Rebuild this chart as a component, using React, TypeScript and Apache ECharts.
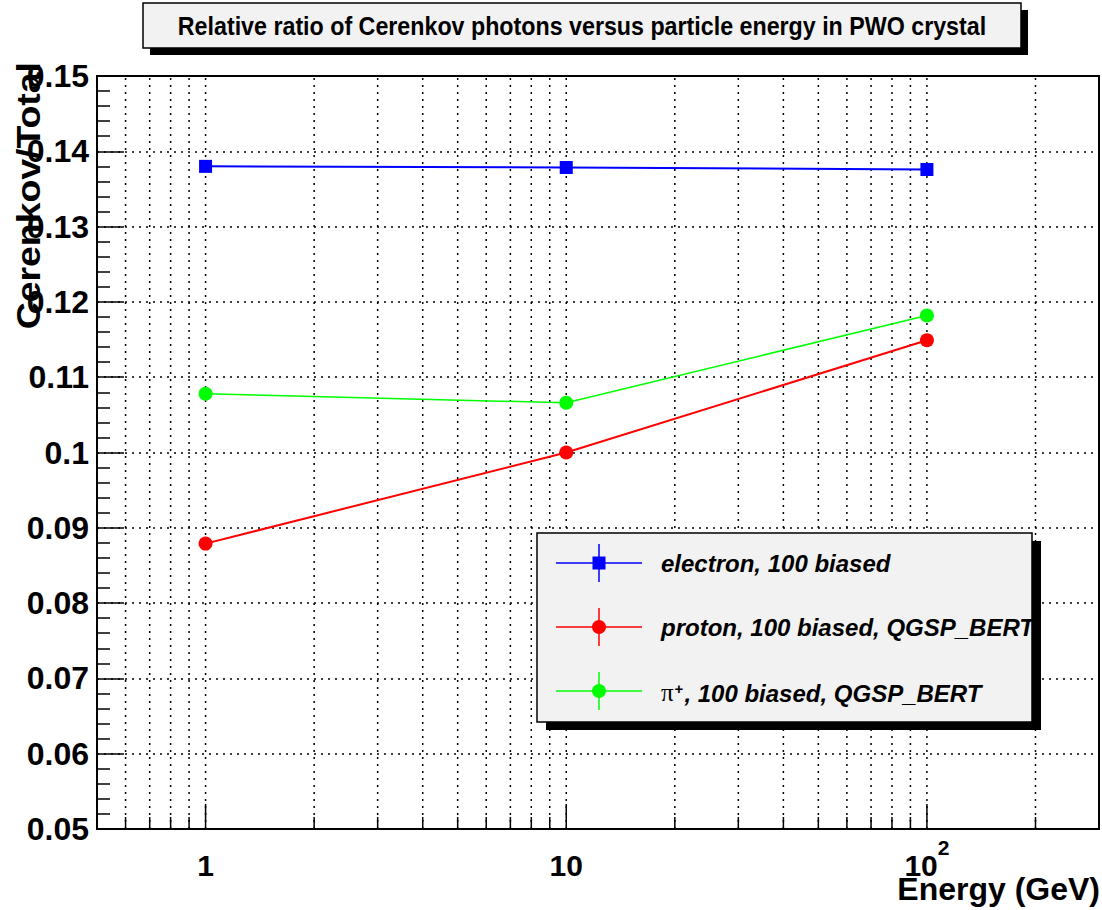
import React, { useEffect, useRef } from "react";
import * as echarts from "echarts";

// ---- data ----
const energies = [1, 10, 100];
const electronRatio = [0.1380, 0.13785, 0.13758];
const protonRatio = [0.0879, 0.1000, 0.1149];
const pionRatio = [0.1078, 0.1066, 0.1182];

const seriesNames = [
  "electron, 100 biased",
  "proton, 100 biased, QGSP_BERT",
  "π+, 100 biased, QGSP_BERT",
];

const xGridTicks = [0.6, 0.7, 0.8, 0.9, 1, 2, 3, 4, 5, 6, 7, 8, 9, 10, 20, 30, 40, 50, 60, 70, 80, 90, 100, 200];
const xMajorTicks = [1, 10, 100];
const xTickLabels = ["{b|1}", "{b|10}", "{b|10}{s|2}"];

const X_MIN = 0.5;
const X_MAX = 300;
const Y_MIN = 0.05;
const Y_MAX = 0.15;
const Y_STEP = 0.01;

const FONT = "'Liberation Sans', Arial, Helvetica, sans-serif";

export default function App() {
  const ref = useRef<HTMLDivElement>(null);

  useEffect(() => {
    if (!ref.current) return;
    const chart = echarts.init(ref.current, undefined, { renderer: "svg" });

    const GRID = { left: 97, top: 76, width: 1002, height: 753 };

    const labelFor = (v: number) => {
      for (let i = 0; i < xMajorTicks.length; i++) {
        if (Math.abs(v - xMajorTicks[i]) / xMajorTicks[i] < 1e-6) return xTickLabels[i];
      }
      return "";
    };

    const dotted = [2, 5];

    const mkLine = (name: string, data: number[], color: string, symbol: string, width: number) => ({
      name,
      type: "line",
      data: energies.map((e, i) => [e, data[i]]),
      symbol,
      symbolSize: symbol === "rect" ? 13 : 14,
      showSymbol: true,
      itemStyle: { color },
      lineStyle: { color, width },
      z: 5,
      silent: true,
    });

    // legend
    const LZ = 50;
    const LX = 537, LY = 533, LW = 495, LH = 189;
    const rows = [
      { y: 563, color: "#0000ff", marker: "rect" },
      { y: 627, color: "#ff0000", marker: "circle" },
      { y: 691, color: "#00ff00", marker: "circle" },
    ];
    const legendEls: any[] = [
      { type: "rect", z: LZ, shape: { x: LX + 9, y: LY + 8, width: LW, height: LH }, style: { fill: "#000" } },
      { type: "rect", z: LZ + 1, shape: { x: LX, y: LY, width: LW, height: LH }, style: { fill: "#f2f2f2", stroke: "#000", lineWidth: 1.5 } },
    ];
    rows.forEach((r, i) => {
      legendEls.push({ type: "line", z: LZ + 2, shape: { x1: 556, y1: r.y, x2: 642, y2: r.y }, style: { stroke: r.color, lineWidth: 1.5 } });
      legendEls.push({ type: "line", z: LZ + 2, shape: { x1: 599, y1: r.y - 19, x2: 599, y2: r.y + 19 }, style: { stroke: r.color, lineWidth: 1.5 } });
      if (r.marker === "rect") {
        legendEls.push({ type: "rect", z: LZ + 3, shape: { x: 599 - 6.5, y: r.y - 6.5, width: 13, height: 13 }, style: { fill: r.color } });
      } else {
        legendEls.push({ type: "circle", z: LZ + 3, shape: { cx: 599, cy: r.y, r: 7 }, style: { fill: r.color } });
      }
      const isPi = i === 2;
      legendEls.push({
        type: "text",
        z: LZ + 3,
        x: 661,
        y: r.y,
        style: {
          text: isPi ? "{pi|π}{sup|+}{t|, 100 biased, QGSP_BERT}" : seriesNames[i],
          fill: "#000",
          font: `italic bold 24px ${FONT}`,
          verticalAlign: "middle",
          align: "left",
          rich: isPi
            ? {
                pi: { fontFamily: "'Liberation Serif', serif", fontSize: 25, fontStyle: "normal", fontWeight: "normal", fill: "#000", verticalAlign: "bottom", lineHeight: 28 },
                sup: { fontFamily: FONT, fontSize: 15, fontWeight: "bold", fill: "#000", verticalAlign: "bottom", lineHeight: 15, padding: [0, 1, 9, 1] },
                t: { fontFamily: FONT, fontSize: 24, fontStyle: "italic", fontWeight: "bold", fill: "#000", verticalAlign: "bottom", lineHeight: 28 },
              }
            : undefined,
        },
      });
    });

    const option: any = {
      animation: false,
      backgroundColor: "#fff",
      grid: { ...GRID, show: true, borderColor: "#000", borderWidth: 2, backgroundColor: "transparent" },
      xAxis: {
        type: "log",
        logBase: 10,
        min: X_MIN,
        max: X_MAX,
        axisLine: { show: true, lineStyle: { color: "#000", width: 2 } },
        axisTick: { show: false },
        splitLine: { show: false },
        minorTick: { show: false },
        minorSplitLine: { show: false },
        axisLabel: {
          show: true,
          margin: 51,
          verticalAlign: "bottom",
          color: "#000",
          fontFamily: FONT,
          fontWeight: "bold",
          fontSize: 30,
          showMinLabel: true,
          showMaxLabel: true,
          hideOverlap: false,
          formatter: labelFor,
          rich: {
            b: { fontFamily: FONT, fontWeight: "bold", fontSize: 30, color: "#000", verticalAlign: "bottom", lineHeight: 30 },
            s: { fontFamily: FONT, fontWeight: "bold", fontSize: 21, color: "#000", verticalAlign: "bottom", lineHeight: 21, padding: [0, 0, 22, 0] },
          },
        },
      },
      yAxis: {
        type: "value",
        min: Y_MIN,
        max: Y_MAX,
        interval: Y_STEP,
        axisLine: { show: true, lineStyle: { color: "#000", width: 2 } },
        axisTick: { show: true, inside: true, length: 27, lineStyle: { color: "#000", width: 1.5 } },
        minorTick: { show: true, splitNumber: 5, length: 13, lineStyle: { color: "#000", width: 1.5 } },
        splitLine: { show: true, lineStyle: { color: "#000", width: 1.5, type: dotted } },
        axisLabel: {
          margin: 8,
          color: "#000",
          fontFamily: FONT,
          fontWeight: "bold",
          fontSize: 32,
        },
      },
      series: [
        {
          type: "custom",
          silent: true,
          z: 1,
          clip: false,
          data: xGridTicks.map((v) => [v]),
          renderItem: (params: any, api: any) => {
            const v = api.value(0);
            const p0 = api.coord([v, Y_MIN]);
            const p1 = api.coord([v, Y_MAX]);
            const major = xMajorTicks.some((m) => Math.abs(v - m) / m < 1e-6);
            const len = major ? 25 : 12;
            return {
              type: "group",
              children: [
                { type: "line", shape: { x1: p0[0], y1: p0[1], x2: p1[0], y2: p1[1] }, style: { stroke: "#000", lineWidth: 1.5, lineDash: dotted } },
                { type: "line", shape: { x1: p0[0], y1: p0[1], x2: p0[0], y2: p0[1] - len }, style: { stroke: "#000", lineWidth: 1.5 } },
              ],
            };
          },
        },
        mkLine(seriesNames[0], electronRatio, "#0000ff", "rect", 2),
        mkLine(seriesNames[1], protonRatio, "#ff0000", "circle", 2),
        mkLine(seriesNames[2], pionRatio, "#00ff00", "circle", 1.5),
      ],
      graphic: [
        // title box
        { type: "rect", z: 40, shape: { x: 150, y: 10, width: 878, height: 45 }, style: { fill: "#000" } },
        { type: "rect", z: 41, shape: { x: 143, y: 3, width: 878, height: 45 }, style: { fill: "#f2f2f2", stroke: "#000", lineWidth: 1.5 } },
        {
          type: "text",
          z: 42,
          x: 582,
          y: 26,
          scaleX: 0.93,
          style: {
            text: "Relative ratio of Cerenkov photons versus particle energy in PWO crystal",
            font: `bold 25px ${FONT}`,
            fill: "#000",
            align: "center",
            verticalAlign: "middle",
          },
        },
        // y axis title
        {
          type: "text",
          z: 42,
          x: 29,
          y: 62,
          rotation: Math.PI / 2,
          scaleX: 1.1,
          style: {
            text: "Cerenkov/Total",
            font: `bold 34px ${FONT}`,
            fill: "#000",
            align: "right",
            verticalAlign: "middle",
          },
        },
        // x axis title
        {
          type: "text",
          z: 42,
          x: 1100,
          y: 889,
          style: {
            text: "Energy (GeV)",
            font: `bold 32px ${FONT}`,
            fill: "#000",
            align: "right",
            verticalAlign: "middle",
          },
        },
        ...legendEls,
      ],
    };

    chart.setOption(option);
    return () => chart.dispose();
  }, []);

  return (
    <div
      ref={ref}
      style={{ position: "absolute", left: 0, top: 0, width: 1102, height: 910, background: "#fff" }}
    />
  );
}
